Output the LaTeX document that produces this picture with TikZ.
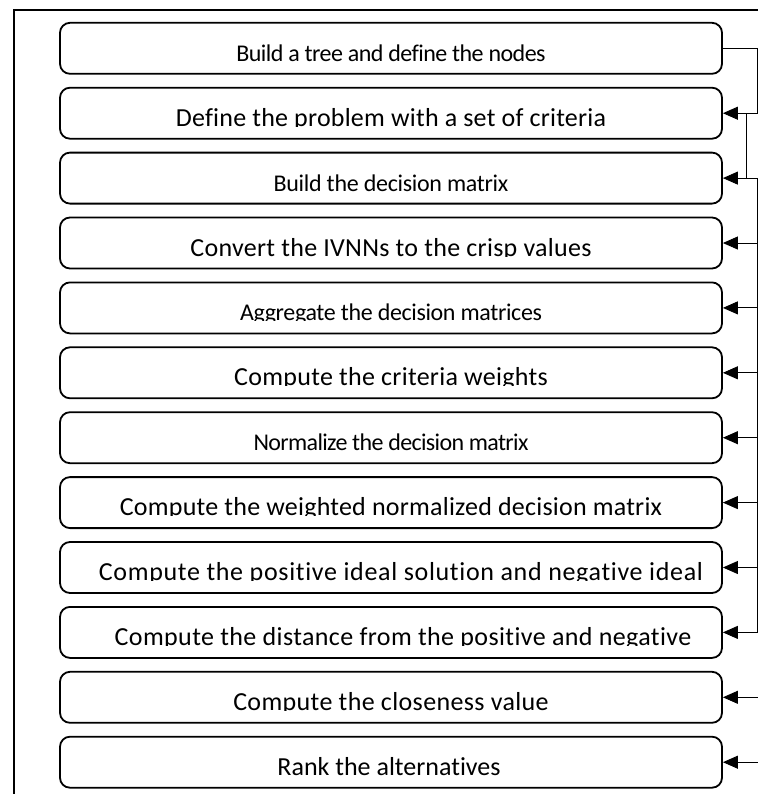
\documentclass[tikz,border=0pt]{standalone}
\usepackage{fontspec}
\setmainfont[Ligatures={NoCommon}]{Carlito}
\usetikzlibrary{arrows.meta}

\tikzset{
  stepbox/.style={draw, line width=0.9pt, rounded corners=5pt,
    minimum width=331pt, minimum height=25.5pt, inner sep=0pt},
  steptext/.style={anchor=base, inner sep=0pt},
  link/.style={line width=0.45pt},
  tip/.style={-{Triangle[length=7.5pt,width=6.5pt]}},
}

\begin{document}
\begin{tikzpicture}[x=0.5pt,y=-0.5pt]
  \useasboundingbox (0,0) rectangle (758,794);
  % outer frame, running off the page at right and bottom
  \draw[line width=1pt] (13.5,810) -- (13.5,10) -- (770,10);
  % the twelve steps (number/size/letter spacing/shift/text), text cut off at the baseline
  \foreach \i/\fs/\ls/\dx/\txt in {1/12/-2.3/0/Build a tree and define the nodes,
      2/13/0.9/0/Define the problem with a set of criteria,
      3/12/-1.3/0/Build the decision matrix,
      4/13/1.1/0/Convert the IVNNs to the crisp values,
      5/12/-1.5/0/Aggregate the decision matrices,
      6/13/1.1/0/Compute the criteria weights,
      7/12/-2.7/0/Normalize the decision matrix,
      8/13/0.9/0/Compute the weighted normalized decision matrix,
      9/13/2.6/5/Compute the positive ideal solution and negative ideal,
      10/13/1.5/6/Compute the distance from the positive and negative,
      11/13/1.4/0/Compute the closeness value,
      12/13/0/-1/Rank the alternatives}{
    \node[stepbox] (s\i) at (391,{48.3+64.9*(\i-1)}) {};
    \begin{scope}
      \clip (s\i.north west) rectangle ([yshift=-6.5pt]s\i.east);
      \node[steptext,font=\fontsize{\fs}{15}\selectfont\addfontfeature{LetterSpace=\ls}]
        at ([xshift=\dx pt,yshift=-6.5pt]s\i.center) {\txt};
    \end{scope}
  }
  % connectors on the right
  \draw[link,tip] (s1.east) -- ++(35,0) |- (s2.east);
  \draw[link] ([xshift=12pt]s2.east) -- ([xshift=12pt]s3.east)
    -- ([xshift=17.5pt]s3.east) -- ([xshift=17.5pt]s10.east);
  \foreach \i in {3,...,12}
    \draw[link,tip] ([xshift=17.5pt]s\i.east) -- (s\i.east);
\end{tikzpicture}
\end{document}
